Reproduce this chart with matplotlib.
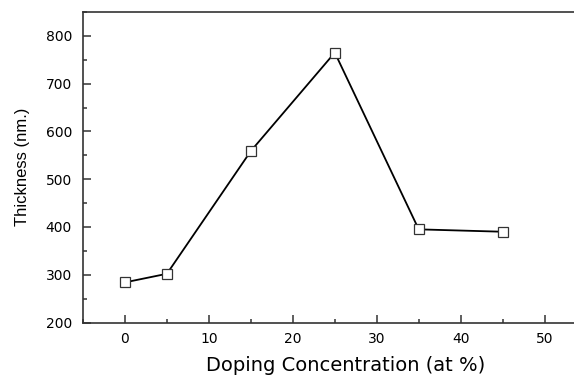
import matplotlib.pyplot as plt
from matplotlib.ticker import MultipleLocator

doping = [0, 5, 15, 25, 35, 45]
thickness = [284, 302, 559, 765, 395, 390]

plt.rcParams['font.family'] = ['DejaVu Sans']

fig = plt.figure(figsize=(5.74, 3.75), dpi=100)
ax = fig.add_axes([83 / 574, 1 - 322.5 / 375, (574 - 83) / 574, (322.5 - 12) / 375])

ax.plot(doping, thickness, color='black', linewidth=1.3, marker='s',
        markersize=7.5, markerfacecolor='white', markeredgecolor='#333333',
        markeredgewidth=0.9)

ax.set_xlim(-5, 53.5)
ax.set_ylim(200, 850)
ax.xaxis.set_major_locator(MultipleLocator(10))
ax.xaxis.set_minor_locator(MultipleLocator(5))
ax.yaxis.set_major_locator(MultipleLocator(100))
ax.yaxis.set_minor_locator(MultipleLocator(50))
ax.tick_params(which='both', direction='in', top=False, right=False,
               labelsize=10, width=1.1, color='#333333')
ax.tick_params(axis='x', which='major', length=6, pad=7)
ax.tick_params(axis='y', which='major', length=6, pad=8)
ax.tick_params(which='minor', length=3)

for side in ['left', 'bottom', 'top']:
    ax.spines[side].set_linewidth(1.2)
    ax.spines[side].set_color('#333333')
ax.spines['right'].set_visible(False)

ax.set_xlabel('Doping Concentration (at %)', fontsize=14)
ax.xaxis.set_label_coords(0.534, -0.108)
ax.set_ylabel('Thickness (nm.)', fontsize=12, labelpad=11,
              family=['Liberation Sans'])

fig.savefig('out.png', dpi=100)
